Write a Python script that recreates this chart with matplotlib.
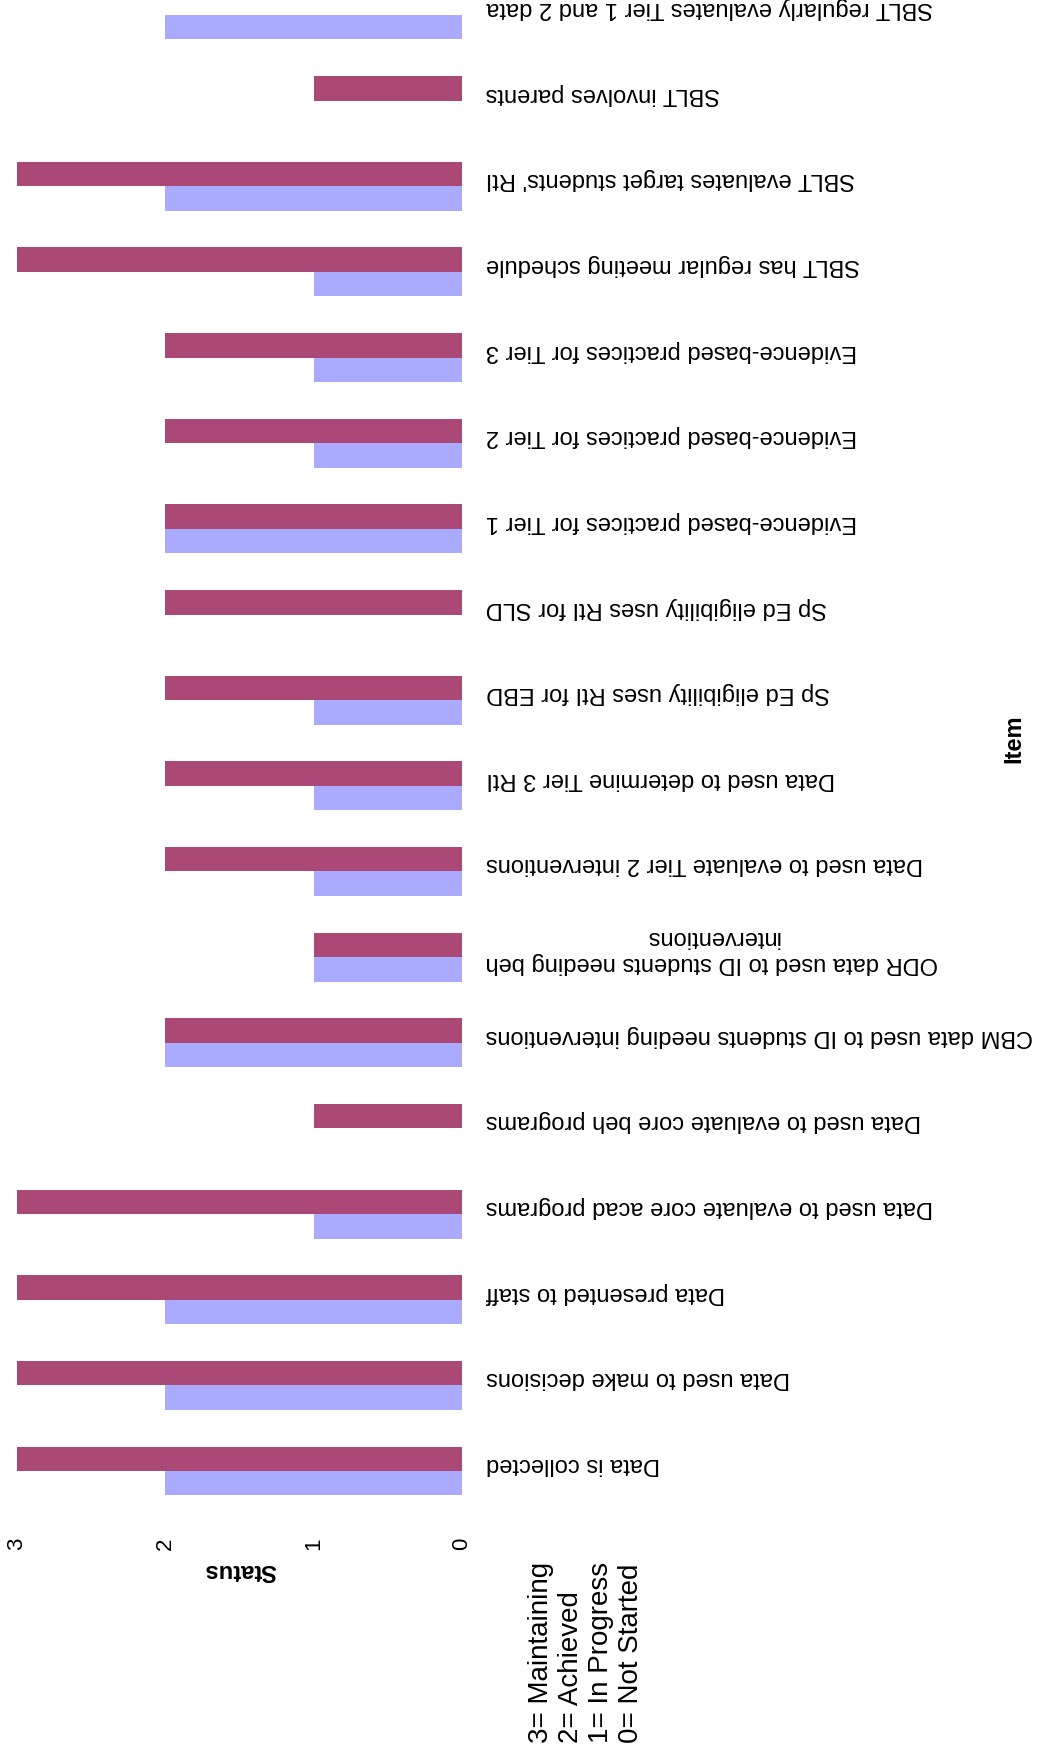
"""
RtI data status by item: current vs. target, drawn as horizontal bars.
"""

import matplotlib
matplotlib.use('Agg')
import matplotlib.pyplot as plt
import matplotlib.transforms as mtransforms
import numpy as np

plt.rcParams['font.family'] = ['Liberation Sans', 'DejaVu Sans']

# Items and status values (0-3)
# ----------------------------------------------------------------------------

items = [
    'Data is collected',
    'Data used to make decisions',
    'Data presented to staff',
    'Data used to evaluate core acad programs',
    'Data used to evaluate core beh programs',
    'CBM data used to ID students needing interventions',
    'ODR data used to ID students needing beh\ninterventions',
    'Data used to evaluate Tier 2 interventions',
    'Data used to determine Tier 3 RtI',
    'Sp Ed eligibility uses RtI for EBD',
    'Sp Ed eligibility uses RtI for SLD',
    'Evidence-based practices for Tier 1',
    'Evidence-based practices for Tier 2',
    'Evidence-based practices for Tier 3',
    'SBLT has regular meeting schedule',
    "SBLT evaluates target students' RtI",
    'SBLT involves parents',
    'SBLT regularly evaluates Tier 1 and 2 data',
]

status_a = [2, 2, 2, 1, 0, 2, 1, 1, 1, 1, 0, 2, 1, 1, 1, 2, 0, 2]
status_b = [3, 3, 3, 3, 1, 2, 1, 2, 2, 2, 2, 2, 2, 2, 3, 3, 1, 0]

status_ticks = [0, 1, 2, 3]
status_key = '3= Maintaining\n2= Achieved\n1= In Progress\n0= Not Started'

# Plot
# ----------------------------------------------------------------------------

W, H = 1049, 1754
fig = plt.figure(figsize=(W / 100, H / 100), dpi=100)

ax_bottom = 1525
ax = fig.add_axes([17 / W, 1 - ax_bottom / H, (462 - 17) / W, ax_bottom / H])

y = np.arange(len(items))
h = 0.286
ax.barh(y - h / 2, status_a, height=h, color='#aaaaff')
ax.barh(y + h / 2, status_b, height=h, color='#aa4976')

ax.set_xlim(3, 0)
step = 85.65
ax.set_ylim(-(ax_bottom - 1471) / step, 17 + 15 / step)

for s in ax.spines.values():
    s.set_visible(False)

ax.set_xticks(status_ticks)
ax.set_xticklabels([str(t) for t in status_ticks], rotation=90, fontsize=16)
ax.tick_params(axis='x', length=0, pad=9)

# item labels, upside down, to the right of the zero line
ax.set_yticks([])
shift = mtransforms.ScaledTranslation(24 / 100, 7 / 100, fig.dpi_scale_trans)
for yi, name in zip(y, items):
    ax.text(1, yi, name, transform=ax.get_yaxis_transform() + shift,
            rotation=180, fontsize=17, ha='left', va='center',
            multialignment='center')

fig.text(240 / W, 1 - 1570 / H, 'Status', rotation=180, fontsize=17,
         fontweight='bold', ha='center', va='center')
fig.text(1014 / W, 1 - 739 / H, 'Item', rotation=90, fontsize=17,
         fontweight='bold', ha='center', va='center')
fig.text(586 / W, 1 - 1743 / H, status_key, rotation=90, fontsize=20,
         ha='center', va='bottom', multialignment='left', linespacing=1.2)

fig.savefig('out.png', dpi=100)
